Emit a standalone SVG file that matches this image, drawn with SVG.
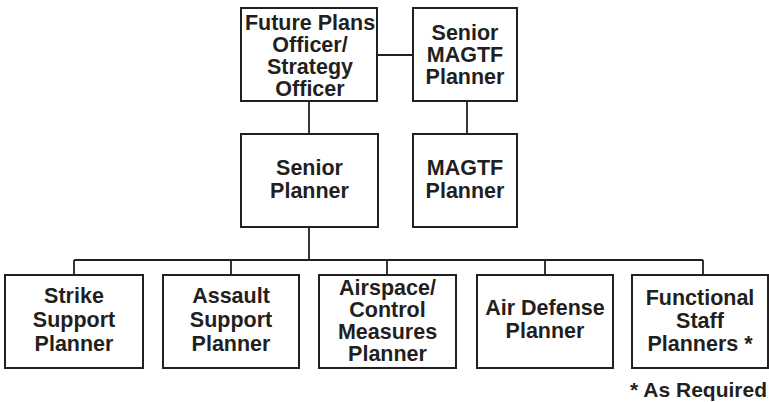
<svg xmlns="http://www.w3.org/2000/svg" width="769" height="402" viewBox="0 0 769 402">
<style>
.box{fill:#fff;stroke:#231f20;stroke-width:2}
.ln{stroke:#231f20;stroke-width:1.8;fill:none}
text{font-family:"Liberation Sans",Arial,sans-serif;font-weight:bold;font-size:21.5px;fill:#231f20;text-anchor:middle}
</style>
<rect width="769" height="402" fill="#fff"/>
<g id="connectors">
<path class="ln" d="M377,55H413M309,101V134M467,101V134M309,227V260M74,260H703M74,260V275M231,260V275M387,260V275M545,260V275M703,260V275"/>
</g>
<g id="futurePlans">
<rect class="box" x="241" y="8" width="136" height="93"/>
<text x="310" y="30">Future Plans</text>
<text x="310" y="52">Officer/</text>
<text x="310" y="74">Strategy</text>
<text x="310" y="96">Officer</text>
</g>
<g id="seniorMagtf">
<rect class="box" x="413" y="8" width="104" height="93"/>
<text x="465" y="40">Senior</text>
<text x="465" y="62">MAGTF</text>
<text x="465" y="84">Planner</text>
</g>
<g id="seniorPlanner">
<rect class="box" x="241" y="134" width="137" height="93"/>
<text x="309.5" y="175">Senior</text>
<text x="309.5" y="198">Planner</text>
</g>
<g id="magtfPlanner">
<rect class="box" x="413" y="134" width="104" height="93"/>
<text x="465" y="175">MAGTF</text>
<text x="465" y="198">Planner</text>
</g>
<g id="strike">
<rect class="box" x="5" y="275" width="138" height="93"/>
<text x="74" y="303">Strike</text>
<text x="74" y="327">Support</text>
<text x="74" y="351">Planner</text>
</g>
<g id="assault">
<rect class="box" x="163" y="275" width="136" height="93"/>
<text x="231" y="303">Assault</text>
<text x="231" y="327">Support</text>
<text x="231" y="351">Planner</text>
</g>
<g id="airspace">
<rect class="box" x="319" y="275" width="137" height="93"/>
<text x="387.5" y="295">Airspace/</text>
<text x="387.5" y="317">Control</text>
<text x="387.5" y="339">Measures</text>
<text x="387.5" y="361">Planner</text>
</g>
<g id="airDefense">
<rect class="box" x="477" y="275" width="136" height="93"/>
<text x="545" y="315">Air Defense</text>
<text x="545" y="338">Planner</text>
</g>
<g id="functional">
<rect class="box" x="632" y="275" width="136" height="93"/>
<text x="700" y="305">Functional</text>
<text x="700" y="328">Staff</text>
<text x="700" y="351">Planners *</text>
</g>
<text x="767" y="397" style="text-anchor:end;font-size:21px">* As Required</text>
</svg>
